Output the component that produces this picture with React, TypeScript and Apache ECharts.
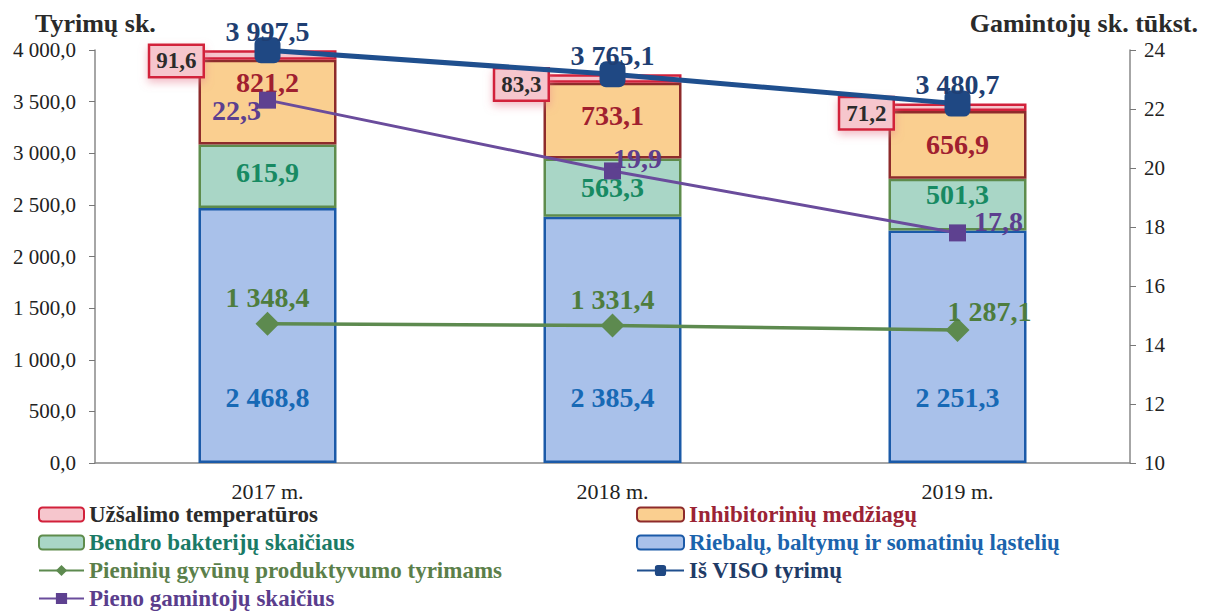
import React, { useEffect, useRef } from "react";
import * as echarts from "echarts";

const categories = ["2017 m.", "2018 m.", "2019 m."];
const riebalu = [2468.8, 2385.4, 2251.3];
const bendro = [615.9, 563.3, 501.3];
const inhibitoriniu = [821.2, 733.1, 656.9];
const uzsalimo = [91.6, 83.3, 71.2];
const isViso = [3997.5, 3765.1, 3480.7];
const pieniniu = [1348.4, 1331.4, 1287.1];
const pienoGamintoju = [22.3, 19.9, 17.8];

const N_UZS = "Užšalimo temperatūros";
const N_INH = "Inhibitorinių medžiagų";
const N_BEN = "Bendro bakterijų skaičiaus";
const N_RIE = "Riebalų, baltymų ir somatinių ląstelių";
const N_PIE = "Pieninių gyvūnų produktyvumo tyrimams";
const N_VIS = "Iš VISO tyrimų";
const N_GAM = "Pieno gamintojų skaičius";

const FONT = "'Liberation Serif', 'DejaVu Serif', serif";
const LBL = 28;

function fmt(v: number): string {
  const [i, d] = v.toFixed(1).split(".");
  return i.replace(/\B(?=(\d{3})+(?!\d))/g, " ") + "," + d;
}

const lbl = (color: string, size = LBL) => ({
  color,
  fontFamily: FONT,
  fontWeight: "bold" as const,
  fontSize: size,
});

export default function App() {
  const ref = useRef<HTMLDivElement>(null);
  useEffect(() => {
    if (!ref.current) return;
    const chart = echarts.init(ref.current, undefined, { renderer: "svg" });
    const legendText = (name: string, color: string) => ({
      name,
      textStyle: { color, fontFamily: FONT, fontWeight: "bold", fontSize: 23 },
    });
    chart.setOption({
      animation: false,
      backgroundColor: "#ffffff",
      title: [
        {
          text: "Tyrimų sk.",
          left: 30,
          top: 5,
          textStyle: { fontFamily: FONT, fontWeight: "bold", fontSize: 26, color: "#2a2a2a" },
        },
        {
          text: "Gamintojų sk. tūkst.",
          right: 14,
          top: 5,
          textStyle: { fontFamily: FONT, fontWeight: "bold", fontSize: 26, color: "#2a2a2a" },
        },
      ],
      grid: { left: 95, right: 87, top: 50, bottom: 153 },
      legend: [
        {
          orient: "vertical",
          left: 38,
          top: 503,
          padding: 0,
          itemGap: 5,
          itemWidth: 45,
          itemHeight: 14,
          data: [
            legendText(N_UZS, "#2b2b2b"),
            legendText(N_BEN, "#1a7a66"),
            legendText(N_PIE, "#5b7f4a"),
            legendText(N_GAM, "#5a3d8c"),
          ],
        },
        {
          orient: "vertical",
          left: 636,
          top: 503,
          padding: 0,
          itemGap: 5,
          itemWidth: 47,
          itemHeight: 14,
          data: [
            legendText(N_INH, "#9b2335"),
            legendText(N_RIE, "#1b64ad"),
            legendText(N_VIS, "#1f3b66"),
          ],
        },
      ],
      xAxis: {
        type: "category",
        data: categories,
        axisLine: { lineStyle: { color: "#888", width: 1.5 } },
        axisTick: { show: false },
        axisLabel: { color: "#222", fontFamily: FONT, fontSize: 22, margin: 17 },
      },
      yAxis: [
        {
          type: "value",
          min: 0,
          max: 4000,
          interval: 500,
          splitLine: { show: false },
          axisLine: { show: true, lineStyle: { color: "#888", width: 1.5 } },
          axisTick: { show: true, length: 6, lineStyle: { color: "#777" } },
          axisLabel: {
            color: "#222",
            fontFamily: FONT,
            fontSize: 21,
            margin: 19,
            formatter: (v: number) => fmt(v),
          },
        },
        {
          type: "value",
          min: 10,
          max: 24,
          interval: 2,
          splitLine: { show: false },
          axisLine: { show: true, lineStyle: { color: "#888", width: 1.5 } },
          axisTick: { show: true, length: 6, lineStyle: { color: "#777" } },
          axisLabel: { color: "#222", fontFamily: FONT, fontSize: 21, margin: 14 },
        },
      ],
      series: [
        {
          name: N_RIE,
          type: "bar",
          stack: "t",
          barWidth: "40%",
          data: riebalu,
          itemStyle: { color: "#a9c1ea", borderColor: "#1b5aa8", borderWidth: 2.5 },
          label: {
            show: true,
            position: "insideBottom",
            distance: 52,
            formatter: (p: any) => fmt(p.value),
            ...lbl("#1769b5"),
          },
        },
        {
          name: N_BEN,
          type: "bar",
          stack: "t",
          data: bendro.map((v, i) =>
            i === 2
              ? { value: v, label: { offset: [0, -10] } }
              : i === 1
              ? { value: v, label: { offset: [0, 0] } }
              : v
          ),
          itemStyle: { color: "#a9d6c6", borderColor: "#5e8c4c", borderWidth: 2.5 },
          label: {
            show: true,
            position: "inside",
            offset: [0, -4],
            formatter: (p: any) => fmt(p.value),
            ...lbl("#178a62"),
          },
        },
        {
          name: N_INH,
          type: "bar",
          stack: "t",
          data: inhibitoriniu.map((v, i) =>
            i === 0 ? { value: v, label: { offset: [0, -20] } } : i === 1 ? { value: v, label: { offset: [0, -5] } } : v
          ),
          itemStyle: { color: "#facf90", borderColor: "#8e2b2b", borderWidth: 2.5 },
          label: {
            show: true,
            position: "inside",
            formatter: (p: any) => fmt(p.value),
            ...lbl("#a0202f"),
          },
        },
        {
          name: N_UZS,
          type: "bar",
          stack: "t",
          data: uzsalimo,
          itemStyle: { color: "#f6c6cd", borderColor: "#d2213b", borderWidth: 2.5 },
          label: {
            show: true,
            position: "left",
            distance: -4,
            offset: [0, 6],
            formatter: (p: any) => fmt(p.value),
            ...lbl("#2b2b2b", 23),
            backgroundColor: "#f6c6cd",
            borderColor: "#d2213b",
            borderWidth: 2.5,
            padding: [4, 6, 3, 6],
            shadowColor: "rgba(230,120,140,0.5)",
            shadowBlur: 8,
            shadowOffsetY: 4,
          },
        },
        {
          name: N_PIE,
          type: "line",
          yAxisIndex: 0,
          data: pieniniu.map((v, i) =>
            i === 2 ? { value: v, label: { offset: [32, 7] } } : v
          ),
          symbol: "diamond",
          symbolSize: 24,
          lineStyle: { color: "#5d8a4f", width: 3.5 },
          itemStyle: { color: "#5d8a4f" },
          label: {
            show: true,
            position: "top",
            distance: 0,
            formatter: (p: any) => fmt(p.value),
            ...lbl("#4e7d3e"),
          },
          z: 5,
        },
        {
          name: N_GAM,
          type: "line",
          yAxisIndex: 1,
          data: pienoGamintoju.map((v, i) => {
            if (i === 0) return { value: v, label: { position: "left", distance: -2, offset: [0, 10] } };
            if (i === 1) return { value: v, label: { position: "right", distance: -8, offset: [0, -12] } };
            return { value: v, label: { position: "right", distance: 8, offset: [0, -11] } };
          }),
          symbol: "rect",
          symbolSize: 17,
          lineStyle: { color: "#6a4c9c", width: 3 },
          itemStyle: { color: "#5e4190" },
          label: {
            show: true,
            formatter: (p: any) => fmt(p.value),
            ...lbl("#5c3f8f"),
          },
          z: 6,
        },
        {
          name: N_VIS,
          type: "line",
          yAxisIndex: 0,
          data: isViso,
          symbol: "roundRect",
          symbolSize: 26,
          lineStyle: { color: "#1f4f8e", width: 5 },
          itemStyle: { color: "#1f4883" },
          label: {
            show: true,
            position: "top",
            distance: -8,
            formatter: (p: any) => fmt(p.value),
            ...lbl("#1f3f73"),
          },
          z: 7,
        },
      ],
    });
    return () => chart.dispose();
  }, []);
  return <div ref={ref} style={{ width: 1217, height: 616, position: "absolute", left: 0, top: 0 }} />;
}
